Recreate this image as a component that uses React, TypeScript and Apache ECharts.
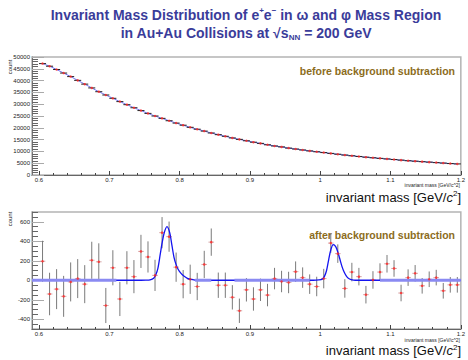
import React, { useEffect, useRef } from 'react';
import * as echarts from 'echarts';

// Bin centres (GeV/c^2)
const binCenters = [
  0.605, 0.615, 0.625, 0.635, 0.645, 0.655, 0.665, 0.675, 0.685, 0.695,
  0.705, 0.715, 0.725, 0.735, 0.745, 0.755, 0.765, 0.775, 0.785, 0.795,
  0.805, 0.815, 0.825, 0.835, 0.845, 0.855, 0.865, 0.875, 0.885, 0.895,
  0.905, 0.915, 0.925, 0.935, 0.945, 0.955, 0.965, 0.975, 0.985, 0.995,
  1.005, 1.015, 1.025, 1.035, 1.045, 1.055, 1.065, 1.075, 1.085, 1.095,
  1.105, 1.115, 1.125, 1.135, 1.145, 1.155, 1.165, 1.175, 1.185, 1.195,
];

// Before background subtraction (counts)
const topCounts = [
  47200, 46100, 44700, 43200, 41700, 40100, 38500, 36900, 35300, 33900,
  32500, 31100, 29800, 28500, 27300, 26100, 25000, 24000, 23000, 22000,
  21100, 20200, 19400, 18600, 17800, 17100, 16400, 15700, 15100, 14500,
  13900, 13400, 12800, 12300, 11900, 11400, 11000, 10600, 10200, 9850,
  9500, 9150, 8800, 8450, 8150, 7850, 7550, 7300, 7050, 6800,
  6550, 6300, 6050, 5850, 5650, 5450, 5250, 5050, 4850, 4700,
];

// After background subtraction (counts) and errors
const bottomValues = [
  195, -141, -91, -165, -17, 17, -40, 205, 189, -259,
  128, -192, 128, 37, 296, 239, 50, 488, 447, 134,
  -40, 10, -64, 162, 391, -51, -51, -175, -313, -98,
  -192, -98, -152, 17, -13, -23, 88, 27, -40, -64,
  17, 381, 273, -84, 84, 37, -148, 3, 84, 169,
  121, -131, 27, 71, -57, 10, 27, -108, -47, -47,
];
const bottomErrors = [
  210, 218, 205, 210, 200, 200, 195, 190, 190, 180,
  180, 175, 170, 170, 170, 160, 160, 160, 155, 150,
  145, 150, 140, 140, 140, 130, 130, 125, 125, 120,
  120, 115, 115, 110, 110, 110, 105, 105, 100, 100,
  100, 100, 95, 95, 95, 90, 90, 90, 90, 90,
  85, 85, 85, 85, 80, 80, 80, 80, 80, 80,
];

// Fit curve (mass, counts)
const fitCurve: [number, number][] = [
  [0.59, 0], [0.745, 0], [0.752, 1], [0.758, 5], [0.763, 20], [0.766, 55], [0.769, 120],
  [0.7725, 270], [0.775, 380], [0.778, 485], [0.782, 550], [0.786, 485], [0.789, 360],
  [0.792, 235], [0.795, 160], [0.798, 110], [0.802, 70], [0.806, 43], [0.811, 20],
  [0.816, 8], [0.822, 2], [0.83, 0], [0.99, 0], [0.998, 3], [1.003, 12], [1.006, 40],
  [1.009, 100], [1.012, 210], [1.015, 310], [1.0185, 365], [1.022, 345], [1.025, 290],
  [1.028, 215], [1.031, 140], [1.034, 84], [1.037, 45], [1.04, 20], [1.044, 7],
  [1.05, 0], [1.2, 0],
];
// Baseline stretches drawn in the lighter blue
const lightFitRanges: [number, number][] = [
  [0.59, 0.71], [0.822, 0.845], [0.878, 0.985], [1.085, 1.2],
];

const xMajorTicks = [0.6, 0.7, 0.8, 0.9, 1.0, 1.1, 1.2];
const topYMajorTicks = [0, 5000, 10000, 15000, 20000, 25000, 30000, 35000, 40000, 45000, 50000];
const bottomYMajorTicks = [-400, -200, 0, 200, 400, 600];

const FF = '"Liberation Sans", Arial, sans-serif';
const TITLE_COLOR = '#3a3c9a';
const ANNOT_COLOR = '#8c6c1c';

function steps(from: number, to: number, step: number, skip: number[]): number[] {
  const out: number[] = [];
  const n = Math.round((to - from) / step);
  for (let k = 0; k <= n; k++) {
    const v = Math.round((from + k * step) * 10000) / 10000;
    if (!skip.some((s) => Math.abs(s - v) < 1e-9)) out.push(v);
  }
  return out;
}

export default function App() {
  const ref = useRef<HTMLDivElement>(null);

  useEffect(() => {
    if (!ref.current) return;
    const chart = echarts.init(ref.current, undefined, { renderer: 'svg' });

    const xMinor = steps(0.6, 1.2, 0.02, xMajorTicks);
    const topYMinor = steps(0, 50000, 1000, topYMajorTicks);
    const botYMinor = steps(-500, 700, 50, bottomYMajorTicks);

    const xMajorAxis = (gridIndex: number) => ({
      gridIndex,
      type: 'value',
      position: 'bottom',
      min: 0.59,
      max: 1.2,
      axisLine: { show: true, onZero: false, lineStyle: { color: '#666', width: 1 } },
      axisTick: { show: true, inside: true, length: 4, customValues: xMajorTicks, lineStyle: { color: '#444' } },
      axisLabel: {
        show: true,
        customValues: xMajorTicks,
        fontSize: 6,
        margin: 2,
        color: '#222',
        fontFamily: FF,
        formatter: (v: number) => String(v),
      },
      splitLine: { show: false },
    });
    const xMinorAxis = (gridIndex: number) => ({
      gridIndex,
      type: 'value',
      position: 'bottom',
      min: 0.59,
      max: 1.2,
      axisLine: { show: false, onZero: false },
      axisTick: { show: true, inside: true, length: 2, customValues: xMinor, lineStyle: { color: '#444' } },
      axisLabel: { show: false },
      splitLine: { show: false },
    });
    const yMajorAxis = (gridIndex: number, min: number, max: number, ticks: number[]) => ({
      gridIndex,
      type: 'value',
      position: 'left',
      min,
      max,
      axisLine: { show: true, onZero: false, lineStyle: { color: '#777', width: 1 } },
      axisTick: { show: true, inside: true, length: 12, customValues: ticks, lineStyle: { color: '#aaa' } },
      axisLabel: {
        show: true,
        customValues: ticks,
        fontSize: 6,
        margin: 2,
        color: '#222',
        fontFamily: FF,
        formatter: (v: number) => String(v),
      },
      splitLine: { show: false },
    });
    const yMinorAxis = (gridIndex: number, min: number, max: number, ticks: number[]) => ({
      gridIndex,
      type: 'value',
      position: 'left',
      min,
      max,
      axisLine: { show: false, onZero: false },
      axisTick: { show: true, inside: true, length: 6, customValues: ticks, lineStyle: { color: '#666' } },
      axisLabel: { show: false },
      splitLine: { show: false },
    });

    const topData = binCenters.map((m, i) => [m, topCounts[i]]);
    const bottomData = binCenters.map((m, i) => [m, bottomValues[i], bottomErrors[i]]);

    const bigLabel = (y: number) => ({
      type: 'text',
      x: 461,
      y,
      style: {
        text: '{a|invariant mass [GeV/}{i|c}{s|2}{a|]}',
        align: 'right',
        verticalAlign: 'middle',
        rich: {
          a: { fontSize: 13, fontFamily: FF, fill: '#111', lineHeight: 15 },
          i: { fontSize: 13, fontFamily: FF, fill: '#111', fontStyle: 'italic', lineHeight: 15 },
          s: { fontSize: 8, fontFamily: FF, fill: '#111', verticalAlign: 'top', lineHeight: 9 },
        },
      },
    });
    const tinyLabel = (y: number) => ({
      type: 'text',
      x: 460,
      y,
      style: {
        text: 'invariant mass [GeV/c^2]',
        align: 'right',
        verticalAlign: 'middle',
        fontSize: 5,
        fontFamily: FF,
        fill: '#222',
      },
    });
    const countLabel = (y: number) => ({
      type: 'text',
      x: 10,
      y,
      rotation: Math.PI / 2,
      style: { text: 'count', align: 'center', verticalAlign: 'middle', fontSize: 6, fontFamily: FF, fill: '#222' },
    });

    chart.setOption({
      animation: false,
      backgroundColor: '#ffffff',
      grid: [
        { left: 32, top: 57, width: 433, height: 118, show: true, borderColor: '#b4b4b4', borderWidth: 1.5, backgroundColor: 'transparent' },
        { left: 32, top: 212, width: 433, height: 117, show: true, borderColor: '#b4b4b4', borderWidth: 1.5, backgroundColor: 'transparent' },
      ],
      xAxis: [xMajorAxis(0), xMinorAxis(0), xMajorAxis(1), xMinorAxis(1)],
      yAxis: [
        yMajorAxis(0, 0, 50000, topYMajorTicks),
        yMinorAxis(0, 0, 50000, topYMinor),
        yMajorAxis(1, -500, 700, bottomYMajorTicks),
        yMinorAxis(1, -500, 700, botYMinor),
      ],
      series: [
        // Top: fit line
        {
          type: 'line',
          xAxisIndex: 0,
          yAxisIndex: 0,
          data: topData,
          showSymbol: false,
          smooth: 0.2,
          lineStyle: { color: '#6f6ff2', width: 1 },
          silent: true,
          z: 2,
        },
        // Top: horizontal bin bars
        {
          type: 'custom',
          xAxisIndex: 0,
          yAxisIndex: 0,
          data: topData,
          renderItem: (params: any, api: any) => {
            const x = api.value(0);
            const y = api.value(1);
            const l = api.coord([x - 0.005, y]);
            const r = api.coord([x + 0.005, y]);
            return {
              type: 'line',
              shape: { x1: l[0], y1: l[1], x2: r[0], y2: r[1] },
              style: { stroke: '#222', lineWidth: 1 },
            };
          },
          silent: true,
          z: 3,
        },
        // Top: markers
        {
          type: 'scatter',
          xAxisIndex: 0,
          yAxisIndex: 0,
          data: topData,
          symbol: 'circle',
          symbolSize: 2.5,
          itemStyle: { color: '#ff2a2a' },
          silent: true,
          z: 4,
        },
        // Bottom: error bars
        {
          type: 'custom',
          xAxisIndex: 2,
          yAxisIndex: 2,
          data: bottomData,
          renderItem: (params: any, api: any) => {
            const x = api.value(0);
            const y = api.value(1);
            const e = api.value(2);
            const t = api.coord([x, y + e]);
            const b = api.coord([x, y - e]);
            const l = api.coord([x - 0.004, y]);
            const r = api.coord([x + 0.004, y]);
            return {
              type: 'group',
              children: [
                { type: 'line', shape: { x1: t[0], y1: t[1], x2: b[0], y2: b[1] }, style: { stroke: '#7a7a7a', lineWidth: 1 } },
                { type: 'line', shape: { x1: l[0], y1: l[1], x2: r[0], y2: r[1] }, style: { stroke: '#d6a6a6', lineWidth: 1 } },
              ],
            };
          },
          silent: true,
          z: 2,
        },
        // Bottom: fit curve
        {
          type: 'line',
          xAxisIndex: 2,
          yAxisIndex: 2,
          data: fitCurve,
          showSymbol: false,
          smooth: 0.3,
          lineStyle: { color: '#1414f0', width: 1.3 },
          silent: true,
          z: 3,
        },
        // Bottom: lighter baseline stretches
        ...lightFitRanges.map(([a, b]) => ({
          type: 'line',
          xAxisIndex: 2,
          yAxisIndex: 2,
          data: [[a, 0], [b, 0]],
          showSymbol: false,
          lineStyle: { color: '#8a8af2', width: 3 },
          silent: true,
          z: 3,
        })),
        // Bottom: markers
        {
          type: 'scatter',
          xAxisIndex: 2,
          yAxisIndex: 2,
          data: bottomData.map((d) => [d[0], d[1]]),
          symbol: 'circle',
          symbolSize: 2.5,
          itemStyle: { color: '#ff2020' },
          silent: true,
          z: 4,
        },
      ],
      graphic: [
        {
          type: 'text',
          x: 246,
          y: 15,
          style: {
            text: '{a|Invariant Mass Distribution of e}{s|+}{a|e}{s|\u2212}{a| in \u03c9 and \u03c6 Mass Region}',
            align: 'center',
            verticalAlign: 'middle',
            rich: {
              a: { fontSize: 14, fontWeight: 'bold', fontFamily: FF, fill: TITLE_COLOR, lineHeight: 17 },
              s: { fontSize: 8, fontWeight: 'bold', fontFamily: FF, fill: TITLE_COLOR, verticalAlign: 'top', lineHeight: 10 },
            },
          },
        },
        {
          type: 'text',
          x: 246,
          y: 33,
          style: {
            text: '{a|in Au+Au Collisions at \u221As}{b|NN}{a| = 200 GeV}',
            align: 'center',
            verticalAlign: 'middle',
            rich: {
              a: { fontSize: 14, fontWeight: 'bold', fontFamily: FF, fill: TITLE_COLOR, lineHeight: 17 },
              b: { fontSize: 8, fontWeight: 'bold', fontFamily: FF, fill: TITLE_COLOR, verticalAlign: 'bottom', lineHeight: 10 },
            },
          },
        },
        {
          type: 'text',
          x: 455,
          y: 71,
          style: { text: 'before background subtraction', align: 'right', verticalAlign: 'middle', fontSize: 10.5, fontWeight: 'bold', fontFamily: FF, fill: ANNOT_COLOR },
        },
        {
          type: 'text',
          x: 455,
          y: 235,
          style: { text: 'after background subtraction', align: 'right', verticalAlign: 'middle', fontSize: 10.5, fontWeight: 'bold', fontFamily: FF, fill: ANNOT_COLOR },
        },
        countLabel(67),
        countLabel(219),
        tinyLabel(185),
        tinyLabel(339.5),
        bigLabel(197),
        bigLabel(350.5),
      ],
    });

    return () => chart.dispose();
  }, []);

  return (
    <div
      ref={ref}
      style={{ position: 'absolute', left: 0, top: 0, width: 468, height: 360, background: '#fff' }}
    />
  );
}
